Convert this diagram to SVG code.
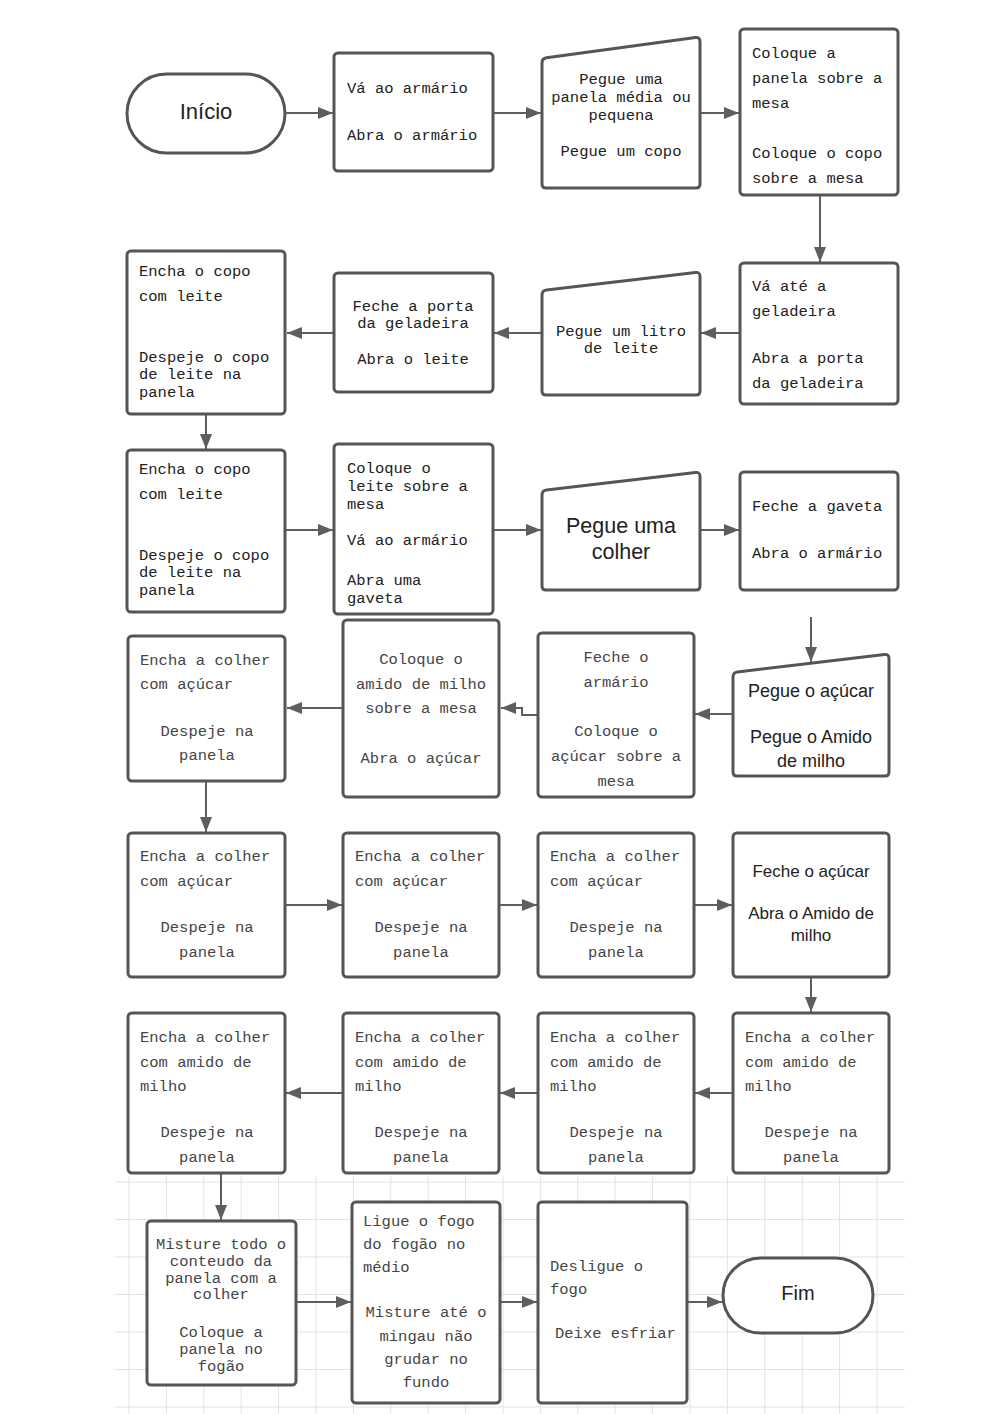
<svg xmlns="http://www.w3.org/2000/svg" width="989" height="1414" viewBox="0 0 989 1414">
<style>
.bg{fill:#ffffff}
.grid line{stroke:#e3e3e3;stroke-width:1}
.box{fill:#ffffff;stroke:#555555;stroke-width:3;stroke-linejoin:round}
.conn{fill:none;stroke:#5e5e5e;stroke-width:2}
.m{font-family:"Liberation Mono","DejaVu Sans Mono",monospace;font-size:15.5px;fill:#222222}
.m2{font-family:"Liberation Mono","DejaVu Sans Mono",monospace;font-size:15.5px;fill:#454545}
.s{font-family:"Liberation Sans",Arial,sans-serif;fill:#222222}
.c{text-anchor:middle}
</style>
<defs>
<marker id="ah" markerUnits="userSpaceOnUse" markerWidth="16" markerHeight="12" refX="15" refY="6" orient="auto">
<path d="M0,0 L15,6 L0,12 z" fill="#5e5e5e"/>
</marker>
</defs>
<rect class="bg" x="0" y="0" width="989" height="1414"/>
<g class="grid">
<line x1="115" y1="1182" x2="905" y2="1182"/>
<line x1="115" y1="1219.5" x2="905" y2="1219.5"/>
<line x1="115" y1="1257" x2="905" y2="1257"/>
<line x1="115" y1="1294.5" x2="905" y2="1294.5"/>
<line x1="115" y1="1332" x2="905" y2="1332"/>
<line x1="115" y1="1369.5" x2="905" y2="1369.5"/>
<line x1="115" y1="1407" x2="905" y2="1407"/>
<line x1="129" y1="1176" x2="129" y2="1414"/>
<line x1="166.4" y1="1176" x2="166.4" y2="1414"/>
<line x1="203.8" y1="1176" x2="203.8" y2="1414"/>
<line x1="241.2" y1="1176" x2="241.2" y2="1414"/>
<line x1="278.6" y1="1176" x2="278.6" y2="1414"/>
<line x1="316" y1="1176" x2="316" y2="1414"/>
<line x1="353.4" y1="1176" x2="353.4" y2="1414"/>
<line x1="390.8" y1="1176" x2="390.8" y2="1414"/>
<line x1="428.2" y1="1176" x2="428.2" y2="1414"/>
<line x1="465.6" y1="1176" x2="465.6" y2="1414"/>
<line x1="503" y1="1176" x2="503" y2="1414"/>
<line x1="540.4" y1="1176" x2="540.4" y2="1414"/>
<line x1="577.8" y1="1176" x2="577.8" y2="1414"/>
<line x1="615.2" y1="1176" x2="615.2" y2="1414"/>
<line x1="652.6" y1="1176" x2="652.6" y2="1414"/>
<line x1="690" y1="1176" x2="690" y2="1414"/>
<line x1="727.4" y1="1176" x2="727.4" y2="1414"/>
<line x1="764.8" y1="1176" x2="764.8" y2="1414"/>
<line x1="802.2" y1="1176" x2="802.2" y2="1414"/>
<line x1="839.6" y1="1176" x2="839.6" y2="1414"/>
<line x1="877" y1="1176" x2="877" y2="1414"/>
</g>
<g id="connectors">
<path class="conn" d="M286,113 H333" marker-end="url(#ah)"/>
<path class="conn" d="M493,113 H541" marker-end="url(#ah)"/>
<path class="conn" d="M700,113 H739" marker-end="url(#ah)"/>
<path class="conn" d="M820,196 V262" marker-end="url(#ah)"/>
<path class="conn" d="M740,333 H701" marker-end="url(#ah)"/>
<path class="conn" d="M542,333 H494" marker-end="url(#ah)"/>
<path class="conn" d="M334,333 H287" marker-end="url(#ah)"/>
<path class="conn" d="M206,414 V449" marker-end="url(#ah)"/>
<path class="conn" d="M286,530 H333" marker-end="url(#ah)"/>
<path class="conn" d="M493,530 H541" marker-end="url(#ah)"/>
<path class="conn" d="M700,530 H739" marker-end="url(#ah)"/>
<path class="conn" d="M811,617 V662" marker-end="url(#ah)"/>
<path class="conn" d="M732,714 H695" marker-end="url(#ah)"/>
<path class="conn" d="M537,715 H522 V708 H501" marker-end="url(#ah)"/>
<path class="conn" d="M343,708 H287" marker-end="url(#ah)"/>
<path class="conn" d="M206,781 V832" marker-end="url(#ah)"/>
<path class="conn" d="M286,905 H342" marker-end="url(#ah)"/>
<path class="conn" d="M499,905 H537" marker-end="url(#ah)"/>
<path class="conn" d="M694,905 H732" marker-end="url(#ah)"/>
<path class="conn" d="M811,977 V1012" marker-end="url(#ah)"/>
<path class="conn" d="M733,1093 H695" marker-end="url(#ah)"/>
<path class="conn" d="M538,1093 H500" marker-end="url(#ah)"/>
<path class="conn" d="M343,1093 H286" marker-end="url(#ah)"/>
<path class="conn" d="M221,1173 V1220" marker-end="url(#ah)"/>
<path class="conn" d="M296,1302 H351" marker-end="url(#ah)"/>
<path class="conn" d="M501,1302 H537" marker-end="url(#ah)"/>
<path class="conn" d="M687,1302 H722" marker-end="url(#ah)"/>
</g>
<g id="inicio">
<rect class="box" x="127" y="74" width="158" height="79" rx="39.5"/>
<text class="s c" x="206" y="119" font-size="22">Início</text>
</g>
<g id="n1">
<rect class="box" x="334" y="53" width="159" height="118" rx="4"/>
<text class="m" x="347" y="93">Vá ao armário</text>
<text class="m" x="347" y="140">Abra o armário</text>
</g>
<g id="n2">
<path class="box" d="M542,63 Q542,58.5 546.5,57.8 L695.5,37.6 Q700,37 700,41.5 V184 Q700,188 696,188 H546 Q542,188 542,184 Z"/>
<text class="m c" x="621" y="84">Pegue uma</text>
<text class="m c" x="621" y="102">panela média ou</text>
<text class="m c" x="621" y="120">pequena</text>
<text class="m c" x="621" y="156">Pegue um copo</text>
</g>
<g id="n3">
<rect class="box" x="740" y="29" width="158" height="166" rx="4"/>
<text class="m" x="752" y="58">Coloque a</text>
<text class="m" x="752" y="83">panela sobre a</text>
<text class="m" x="752" y="108">mesa</text>
<text class="m" x="752" y="158">Coloque o copo</text>
<text class="m" x="752" y="183">sobre a mesa</text>
</g>
<g id="n4">
<rect class="box" x="740" y="263" width="158" height="141" rx="4"/>
<text class="m" x="752" y="291">Vá até a</text>
<text class="m" x="752" y="316">geladeira</text>
<text class="m" x="752" y="363">Abra a porta</text>
<text class="m" x="752" y="388">da geladeira</text>
</g>
<g id="n5">
<path class="box" d="M542,295 Q542,290.5 546.5,290 L695.5,272.5 Q700,272 700,276.5 V391 Q700,395 696,395 H546 Q542,395 542,391 Z"/>
<text class="m c" x="621" y="336">Pegue um litro</text>
<text class="m c" x="621" y="353">de leite</text>
</g>
<g id="n6">
<rect class="box" x="334" y="273" width="159" height="119" rx="4"/>
<text class="m c" x="413" y="311">Feche a porta</text>
<text class="m c" x="413" y="328">da geladeira</text>
<text class="m c" x="413" y="364">Abra o leite</text>
</g>
<g id="n7">
<rect class="box" x="127" y="251" width="158" height="163" rx="4"/>
<text class="m" x="139" y="276">Encha o copo</text>
<text class="m" x="139" y="301">com leite</text>
<text class="m" x="139" y="362">Despeje o copo</text>
<text class="m" x="139" y="379">de leite na</text>
<text class="m" x="139" y="397">panela</text>
</g>
<g id="n8">
<rect class="box" x="127" y="450" width="158" height="162" rx="4"/>
<text class="m" x="139" y="474">Encha o copo</text>
<text class="m" x="139" y="499">com leite</text>
<text class="m" x="139" y="560">Despeje o copo</text>
<text class="m" x="139" y="577">de leite na</text>
<text class="m" x="139" y="595">panela</text>
</g>
<g id="n9">
<rect class="box" x="334" y="444" width="159" height="170" rx="4"/>
<text class="m" x="347" y="473">Coloque o</text>
<text class="m" x="347" y="491">leite sobre a</text>
<text class="m" x="347" y="509">mesa</text>
<text class="m" x="347" y="545">Vá ao armário</text>
<text class="m" x="347" y="585">Abra uma</text>
<text class="m" x="347" y="603">gaveta</text>
</g>
<g id="n10">
<path class="box" d="M542,495 Q542,490.5 546.5,490 L695.5,472.5 Q700,472 700,476.5 V586 Q700,590 696,590 H546 Q542,590 542,586 Z"/>
<text class="s c" x="621" y="533" font-size="21.5">Pegue uma</text>
<text class="s c" x="621" y="559" font-size="21.5">colher</text>
</g>
<g id="n11">
<rect class="box" x="740" y="472" width="158" height="118" rx="4"/>
<text class="m" x="752" y="511">Feche a gaveta</text>
<text class="m" x="752" y="558">Abra o armário</text>
</g>
<g id="n12">
<path class="box" d="M733,677 Q733,672.5 737.5,672 L884.5,654.5 Q889,654 889,658.5 V772 Q889,776 885,776 H737 Q733,776 733,772 Z"/>
<text class="s c" x="811" y="697" font-size="18">Pegue o açúcar</text>
<text class="s c" x="811" y="743" font-size="18">Pegue o Amido</text>
<text class="s c" x="811" y="767" font-size="18">de milho</text>
</g>
<g id="n13">
<rect class="box" x="538" y="633" width="156" height="164" rx="4"/>
<text class="m2 c" x="616" y="662">Feche o</text>
<text class="m2 c" x="616" y="687">armário</text>
<text class="m2 c" x="616" y="736">Coloque o</text>
<text class="m2 c" x="616" y="761">açúcar sobre a</text>
<text class="m2 c" x="616" y="786">mesa</text>
</g>
<g id="n14">
<rect class="box" x="343" y="620" width="156" height="177" rx="4"/>
<text class="m2 c" x="421" y="664">Coloque o</text>
<text class="m2 c" x="421" y="689">amido de milho</text>
<text class="m2 c" x="421" y="713">sobre a mesa</text>
<text class="m2 c" x="421" y="763">Abra o açúcar</text>
</g>
<g id="n15">
<rect class="box" x="128" y="636" width="157" height="145" rx="4"/>
<text class="m2" x="140" y="665">Encha a colher</text>
<text class="m2" x="140" y="689">com açúcar</text>
<text class="m2 c" x="207" y="736">Despeje na</text>
<text class="m2 c" x="207" y="760">panela</text>
</g>
<g id="n16">
<rect class="box" x="128" y="833" width="157" height="144" rx="4"/>
<text class="m2" x="140" y="861">Encha a colher</text>
<text class="m2" x="140" y="886">com açúcar</text>
<text class="m2 c" x="207" y="932">Despeje na</text>
<text class="m2 c" x="207" y="957">panela</text>
</g>
<g id="n17">
<rect class="box" x="343" y="833" width="156" height="144" rx="4"/>
<text class="m2" x="355" y="861">Encha a colher</text>
<text class="m2" x="355" y="886">com açúcar</text>
<text class="m2 c" x="421" y="932">Despeje na</text>
<text class="m2 c" x="421" y="957">panela</text>
</g>
<g id="n18">
<rect class="box" x="538" y="833" width="156" height="144" rx="4"/>
<text class="m2" x="550" y="861">Encha a colher</text>
<text class="m2" x="550" y="886">com açúcar</text>
<text class="m2 c" x="616" y="932">Despeje na</text>
<text class="m2 c" x="616" y="957">panela</text>
</g>
<g id="n19">
<rect class="box" x="733" y="833" width="156" height="144" rx="4"/>
<text class="s c" x="811" y="877" font-size="17" fill="#333">Feche o açúcar</text>
<text class="s c" x="811" y="919" font-size="17" fill="#333">Abra o Amido de</text>
<text class="s c" x="811" y="941" font-size="17" fill="#333">milho</text>
</g>
<g id="n20">
<rect class="box" x="733" y="1013" width="156" height="160" rx="4"/>
<text class="m2" x="745" y="1042">Encha a colher</text>
<text class="m2" x="745" y="1067">com amido de</text>
<text class="m2" x="745" y="1091">milho</text>
<text class="m2 c" x="811" y="1137">Despeje na</text>
<text class="m2 c" x="811" y="1162">panela</text>
</g>
<g id="n21">
<rect class="box" x="538" y="1013" width="156" height="160" rx="4"/>
<text class="m2" x="550" y="1042">Encha a colher</text>
<text class="m2" x="550" y="1067">com amido de</text>
<text class="m2" x="550" y="1091">milho</text>
<text class="m2 c" x="616" y="1137">Despeje na</text>
<text class="m2 c" x="616" y="1162">panela</text>
</g>
<g id="n22">
<rect class="box" x="343" y="1013" width="156" height="160" rx="4"/>
<text class="m2" x="355" y="1042">Encha a colher</text>
<text class="m2" x="355" y="1067">com amido de</text>
<text class="m2" x="355" y="1091">milho</text>
<text class="m2 c" x="421" y="1137">Despeje na</text>
<text class="m2 c" x="421" y="1162">panela</text>
</g>
<g id="n23">
<rect class="box" x="128" y="1013" width="157" height="160" rx="4"/>
<text class="m2" x="140" y="1042">Encha a colher</text>
<text class="m2" x="140" y="1067">com amido de</text>
<text class="m2" x="140" y="1091">milho</text>
<text class="m2 c" x="207" y="1137">Despeje na</text>
<text class="m2 c" x="207" y="1162">panela</text>
</g>
<g id="n24">
<rect class="box" x="147" y="1221" width="149" height="164" rx="4"/>
<text class="m2 c" x="221" y="1249" font-size="15">Misture todo o</text>
<text class="m2 c" x="221" y="1266" font-size="15">conteudo da</text>
<text class="m2 c" x="221" y="1283" font-size="15">panela com a</text>
<text class="m2 c" x="221" y="1299" font-size="15">colher</text>
<text class="m2 c" x="221" y="1337" font-size="15">Coloque a</text>
<text class="m2 c" x="221" y="1354" font-size="15">panela no</text>
<text class="m2 c" x="221" y="1371" font-size="15">fogão</text>
</g>
<g id="n25">
<rect class="box" x="352" y="1202" width="148" height="201" rx="4"/>
<text class="m2" x="363" y="1226" font-size="15">Ligue o fogo</text>
<text class="m2" x="363" y="1249" font-size="15">do fogão no</text>
<text class="m2" x="363" y="1272" font-size="15">médio</text>
<text class="m2 c" x="426" y="1317" font-size="15">Misture até o</text>
<text class="m2 c" x="426" y="1341" font-size="15">mingau não</text>
<text class="m2 c" x="426" y="1364" font-size="15">grudar no</text>
<text class="m2 c" x="426" y="1387" font-size="15">fundo</text>
</g>
<g id="n26">
<rect class="box" x="538" y="1202" width="149" height="201" rx="4"/>
<text class="m2" x="550" y="1271" font-size="15">Desligue o</text>
<text class="m2" x="550" y="1294" font-size="15">fogo</text>
<text class="m2" x="555" y="1338" font-size="15">Deixe esfriar</text>
</g>
<g id="fim">
<rect class="box" x="723" y="1258" width="150" height="75" rx="37.5"/>
<text class="s c" x="798" y="1300" font-size="20" fill="#333">Fim</text>
</g>
</svg>
